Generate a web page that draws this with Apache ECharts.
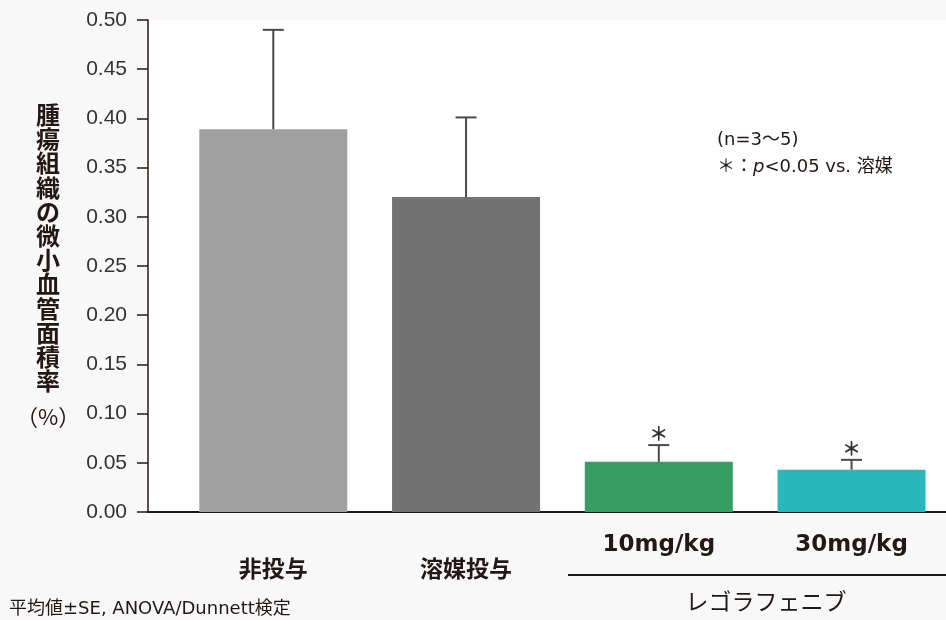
<!DOCTYPE html>
<html>
<head>
<meta charset="utf-8">
<style>
  html, body { margin: 0; padding: 0; background: #f8f8f8; }
  #chart { width: 946px; height: 620px; }
</style>
<script src="https://cdn.jsdelivr.net/npm/echarts@6/dist/echarts.min.js"></script>
</head>
<body>
<div id="chart"></div>
<script>
// Groups along the x axis
const categories = ['非投与', '溶媒投与', '10mg/kg', '30mg/kg'];
// Mean microvessel area ratio (%) and standard error
const means = [0.389, 0.320, 0.051, 0.043];
const seValues = [0.101, 0.081, 0.017, 0.010];
// Significance marks shown above the error bars
const sigMarks = ['', '', '＊', '＊'];
const barColors = ['#a0a0a0', '#727272', '#369d63', '#29b7be'];
// Y axis range and step
const yMin = 0, yMax = 0.5, yStep = 0.05;

const CJK = '"Noto Sans CJK JP", sans-serif';
const LATIN = '"Liberation Sans", Arial, sans-serif';
const WIDE = '"DejaVu Sans", "Noto Sans CJK JP", sans-serif';
const axisColor = '#231815';

const chart = echarts.init(document.getElementById('chart'));

const option = {
  backgroundColor: '#f8f8f8',
  animation: false,
  grid: {
    left: 148, right: 0, top: 20, bottom: 108,
    show: true, backgroundColor: '#ffffff', borderWidth: 0
  },
  xAxis: {
    type: 'value',
    min: -0.65,
    max: 3.49,
    splitLine: { show: false },
    axisTick: { show: false },
    axisLine: { show: true, onZero: false, lineStyle: { color: axisColor, width: 2 } },
    axisLabel: {
      customValues: categories.map((c, i) => i),
      margin: 22,
      color: '#231815',
      formatter: function (v) {
        const i = Math.round(v);
        return i < 2 ? '{gap| }\n{cjk|' + categories[i] + '}' : '{dose|' + categories[i] + '}';
      },
      rich: {
        gap: { fontSize: 10, lineHeight: 22 },
        cjk: { fontFamily: CJK, fontSize: 23, fontWeight: 'bold', lineHeight: 24, color: '#231815' },
        dose: { fontFamily: '"DejaVu Sans", sans-serif', fontSize: 23, fontWeight: 'bold', lineHeight: 22, color: '#231815' }
      }
    }
  },
  yAxis: {
    type: 'value',
    min: yMin,
    max: yMax,
    interval: yStep,
    splitLine: { show: false },
    axisLine: { show: true, onZero: false, lineStyle: { color: axisColor, width: 1.5 } },
    axisTick: { show: true, length: 11, inside: false, lineStyle: { color: axisColor, width: 1.5 } },
    axisLabel: {
      margin: 21,
      fontFamily: LATIN,
      fontSize: 21,
      color: '#333333',
      formatter: v => v.toFixed(2)
    },
    name: '{a|腫\n瘍\n組\n織\nの\n微\n小\n血\n管\n面\n積\n率}\n{b|（%）}',
    nameLocation: 'middle',
    nameRotate: 0,
    nameGap: 99,
    nameTextStyle: {
      align: 'center',
      verticalAlign: 'middle',
      padding: [10, 0, 0, 0],
      rich: {
        a: { fontFamily: CJK, fontSize: 24, fontWeight: 'bold', lineHeight: 24.2, color: '#231815' },
        b: { fontFamily: CJK, fontSize: 22, fontWeight: 'normal', lineHeight: 46, color: '#231815' }
      }
    }
  },
  series: [
    {
      type: 'bar',
      barWidth: 148,
      data: means.map((m, i) => ({ value: [i, m], itemStyle: { color: barColors[i] } }))
    },
    {
      type: 'custom',
      z: 5,
      data: means.map((m, i) => [i, m, seValues[i]]),
      encode: { x: 0, y: 1 },
      renderItem: function (params, api) {
        const x = api.value(0), m = api.value(1), se = api.value(2);
        const base = api.coord([x, m]);
        const top = api.coord([x, m + se]);
        const half = 10.5;
        const style = { stroke: '#4a4a4a', lineWidth: 2 };
        const children = [
          { type: 'line', shape: { x1: base[0], y1: base[1], x2: top[0], y2: top[1] }, style: style },
          { type: 'line', shape: { x1: top[0] - half, y1: top[1], x2: top[0] + half, y2: top[1] }, style: style }
        ];
        const mark = sigMarks[params.dataIndex];
        if (mark) {
          children.push({
            type: 'text',
            style: {
              text: mark, x: top[0], y: top[1] - 11,
              align: 'center', verticalAlign: 'middle',
              font: 'bold 19px ' + CJK, fill: '#333333'
            }
          });
        }
        return { type: 'group', children: children };
      }
    }
  ],
  graphic: [
    {
      type: 'text', left: 717, top: 131,
      style: { text: '(n=3〜5)', font: '18px ' + WIDE, fill: '#231815' }
    },
    {
      type: 'text', left: 717, top: 158,
      style: {
        text: '＊：{i|p}<0.05 vs. 溶媒',
        font: '18px ' + WIDE, fill: '#231815',
        rich: { i: { fontStyle: 'italic', fontFamily: '"DejaVu Sans", sans-serif', fontSize: 18, fill: '#231815' } }
      }
    },
    {
      type: 'line',
      shape: { x1: 568, y1: 575, x2: 946, y2: 575 },
      style: { stroke: '#231815', lineWidth: 2 }
    },
    {
      type: 'text', x: 766, y: 601,
      style: { text: 'レゴラフェニブ', font: '23px ' + CJK, fill: '#231815', align: 'center', verticalAlign: 'middle' }
    },
    {
      type: 'text', x: 9, y: 609,
      style: { text: '平均値±SE, ANOVA/Dunnett検定', font: '18px ' + WIDE, fill: '#231815', verticalAlign: 'middle' }
    }
  ]
};

chart.setOption(option);
</script>
</body>
</html>
